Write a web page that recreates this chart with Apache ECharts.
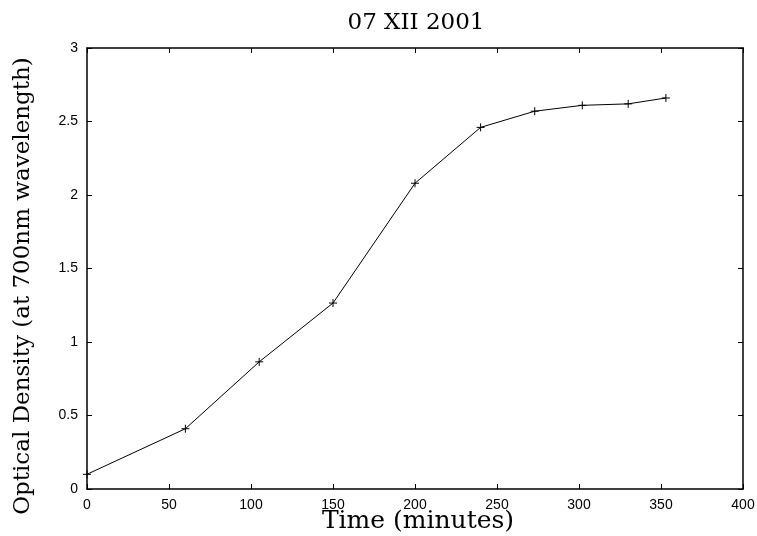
<!DOCTYPE html>
<html>
<head>
<meta charset="utf-8">
<script src="https://cdn.jsdelivr.net/npm/echarts@6/dist/echarts.min.js"></script>
<style>
  html, body { margin: 0; padding: 0; background: #fff; }
  #chart { width: 757px; height: 536px; }
</style>
</head>
<body>
<div id="chart"></div>
<script>
// time in minutes, optical density at 700nm
var times = [0, 60, 105, 150, 200, 240, 273, 302, 330, 353];
var density = [0.10, 0.41, 0.865, 1.265, 2.08, 2.46, 2.57, 2.61, 2.62, 2.66];

var chart = echarts.init(document.getElementById('chart'));

var points = times.map(function (t, i) { return [t, density[i]]; });

var serif = 'DejaVu Serif';
var tickStyle = { show: true, inside: true, length: 5, lineStyle: { color: '#000', width: 1 } };
var lineStyle = { show: true, onZero: false, lineStyle: { color: '#000', width: 1.5 } };
var labelFont = { color: '#000', fontSize: 14, fontFamily: 'Liberation Sans' };

var option = {
  animation: false,
  backgroundColor: '#fff',
  title: {
    text: '07 XII 2001',
    left: 411,
    textAlign: 'center',
    top: 7,
    textStyle: { fontFamily: serif, fontWeight: 'normal', fontSize: 23, color: '#000' }
  },
  graphic: [
    {
      type: 'text',
      x: 23, y: 286,
      rotation: Math.PI / 2,
      style: {
        text: 'Optical Density (at 700nm wavelength)',
        fontFamily: serif, fontSize: 23, fill: '#000',
        align: 'center', verticalAlign: 'middle'
      }
    },
    {
      type: 'text',
      x: 418, y: 521,
      style: {
        text: 'Time (minutes)',
        fontFamily: serif, fontSize: 25, fill: '#000',
        align: 'center', verticalAlign: 'middle'
      }
    }
  ],
  grid: { left: 87, right: 14, top: 48, bottom: 47, containLabel: false, outerBoundsMode: 'none' },
  xAxis: [
    {
      type: 'value', min: 0, max: 400, interval: 50,
      axisLine: lineStyle, axisTick: tickStyle, splitLine: { show: false },
      axisLabel: Object.assign({ margin: 9 }, labelFont)
    },
    {
      type: 'value', position: 'top', min: 0, max: 400, interval: 50,
      axisLine: lineStyle, axisTick: tickStyle, splitLine: { show: false },
      axisLabel: { show: false }
    }
  ],
  yAxis: [
    {
      type: 'value', min: 0, max: 3, interval: 0.5,
      axisLine: lineStyle, axisTick: tickStyle, splitLine: { show: false },
      axisLabel: Object.assign({ margin: 9 }, labelFont)
    },
    {
      type: 'value', position: 'right', min: 0, max: 3, interval: 0.5,
      axisLine: lineStyle, axisTick: tickStyle, splitLine: { show: false },
      axisLabel: { show: false }
    }
  ],
  series: [
    {
      type: 'line',
      data: points,
      symbol: 'path://M0,5L10,5M5,0L5,10',
      symbolSize: 8,
      showAllSymbol: true,
      itemStyle: { color: '#000', borderColor: '#000', borderWidth: 1 },
      lineStyle: { color: '#000', width: 1 }
    }
  ]
};

chart.setOption(option);
</script>
</body>
</html>
